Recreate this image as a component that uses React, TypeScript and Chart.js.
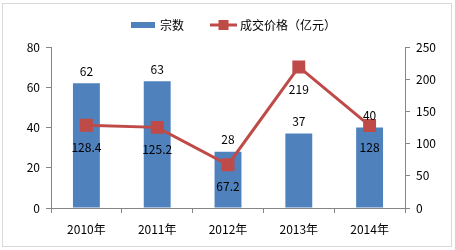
import React, { useEffect, useRef } from "react";
import { Chart, registerables } from "chart.js";
Chart.register(...registerables);

const categories = ["2010年", "2011年", "2012年", "2013年", "2014年"];
const countValues = [62, 63, 28, 37, 40];
const priceValues = [128.4, 125.2, 67.2, 219, 128];
const countSeriesName = "宗数";
const priceSeriesName = "成交价格（亿元）";

const FONT = "'Noto Sans CJK SC', 'Noto Sans', sans-serif";
const BAR_COLOR = "#4F81BD";
const LINE_COLOR = "#BE4B48";
const AXIS_COLOR = "#868686";

const decorPlugin = {
  id: "decor",
  beforeDraw(chart: any) {
    const ctx = chart.ctx;
    ctx.save();
    ctx.fillStyle = "#ffffff";
    ctx.fillRect(0, 0, chart.width, chart.height);
    ctx.strokeStyle = "#d9d9d9";
    ctx.lineWidth = 1;
    ctx.strokeRect(2.5, 3.5, 449, 243);
    ctx.restore();
  },
  afterDatasetsDraw(chart: any) {
    const ctx = chart.ctx;
    ctx.save();
    ctx.font = `12px ${FONT}`;
    ctx.fillStyle = "#000";
    ctx.textAlign = "center";
    ctx.textBaseline = "middle";
    const barMeta = chart.getDatasetMeta(0);
    barMeta.data.forEach((el: any, i: number) => {
      ctx.fillText(String(countValues[i]), el.x, el.y - 12);
    });
    const lineMeta = chart.getDatasetMeta(1);
    lineMeta.data.forEach((el: any, i: number) => {
      ctx.fillText(String(priceValues[i]), el.x, el.y + 22);
    });
    // legend
    const ly = 25;
    ctx.fillStyle = BAR_COLOR;
    ctx.fillRect(131, ly - 3, 24, 6);
    ctx.fillStyle = "#000";
    ctx.textAlign = "left";
    ctx.fillText(countSeriesName, 160, ly);
    ctx.strokeStyle = LINE_COLOR;
    ctx.lineWidth = 3;
    ctx.beginPath();
    ctx.moveTo(210, ly);
    ctx.lineTo(237, ly);
    ctx.stroke();
    ctx.fillStyle = LINE_COLOR;
    ctx.fillRect(223.5 - 5, ly - 5, 10, 10);
    ctx.fillStyle = "#000";
    ctx.fillText(priceSeriesName, 240, ly);
    ctx.restore();
  },
};

export default function App() {
  const ref = useRef<HTMLCanvasElement>(null);
  useEffect(() => {
    if (!ref.current) return;
    const chart = new Chart(ref.current, {
      type: "bar",
      data: {
        labels: categories,
        datasets: [
          {
            type: "bar",
            label: countSeriesName,
            data: countValues,
            backgroundColor: BAR_COLOR,
            yAxisID: "y",
            categoryPercentage: 1,
            barPercentage: 0.38,
            order: 2,
          },
          {
            type: "line",
            label: priceSeriesName,
            data: priceValues,
            borderColor: LINE_COLOR,
            backgroundColor: LINE_COLOR,
            borderWidth: 3,
            pointStyle: "rect",
            pointRadius: 7,
            pointHoverRadius: 7,
            yAxisID: "y1",
            order: 1,
          } as any,
        ],
      },
      options: {
        animation: false,
        responsive: false,
        devicePixelRatio: 1,
        layout: { padding: { top: 47, left: 0, right: 0, bottom: 0 } },
        plugins: { legend: { display: false }, tooltip: { enabled: false } },
        scales: {
          x: {
            offset: true,
            grid: {
              display: true,
              offset: true,
              drawOnChartArea: false,
              drawTicks: true,
              tickLength: 5,
              color: AXIS_COLOR,
            },
            border: { display: true, color: AXIS_COLOR },
            ticks: { color: "#000", font: { family: FONT, size: 12 }, padding: 9 },
            afterFit: (s: any) => {
              s.height = 42;
            },
          },
          y: {
            position: "left",
            min: 0,
            max: 80,
            ticks: { stepSize: 20, color: "#000", font: { family: FONT, size: 12 }, padding: 6 },
            grid: { drawOnChartArea: false, tickLength: 5, color: AXIS_COLOR },
            border: { display: true, color: AXIS_COLOR },
            afterFit: (s: any) => {
              s.width = 51;
            },
          },
          y1: {
            position: "right",
            min: 0,
            max: 250,
            ticks: { stepSize: 50, color: "#000", font: { family: FONT, size: 12 }, padding: 6 },
            grid: { drawOnChartArea: false, tickLength: 5, color: AXIS_COLOR },
            border: { display: true, color: AXIS_COLOR },
            afterFit: (s: any) => {
              s.width = 50;
            },
          },
        },
      },
      plugins: [decorPlugin],
    });
    return () => chart.destroy();
  }, []);
  return (
    <div style={{ position: "absolute", left: 0, top: 0, width: 455, height: 250 }}>
      <canvas ref={ref} width={455} height={250} style={{ width: 455, height: 250 }} />
    </div>
  );
}
